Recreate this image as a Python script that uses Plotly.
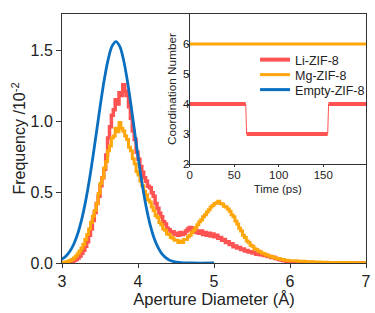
import plotly.graph_objects as go

# ---------------- data ----------------
diam = [3.000, 3.025, 3.050, 3.075, 3.100, 3.125, 3.150, 3.175, 3.200, 3.225,
        3.250, 3.275, 3.300, 3.325, 3.350, 3.375, 3.400, 3.425, 3.450, 3.475,
        3.500, 3.525, 3.550, 3.575, 3.600, 3.625, 3.650, 3.675, 3.700, 3.725,
        3.750, 3.775, 3.800, 3.825, 3.850, 3.875, 3.900, 3.925, 3.950, 3.975,
        4.000, 4.025, 4.050, 4.075, 4.100, 4.125, 4.150, 4.175, 4.200, 4.225,
        4.250, 4.275, 4.300, 4.325, 4.350, 4.375, 4.400, 4.425, 4.450, 4.475,
        4.500, 4.525, 4.550, 4.575, 4.600, 4.625, 4.650, 4.675, 4.700, 4.725,
        4.750, 4.775, 4.800, 4.825, 4.850, 4.875, 4.900, 4.925, 4.950, 4.975,
        5.000, 5.025, 5.050, 5.075, 5.100, 5.125, 5.150, 5.175, 5.200, 5.225,
        5.250, 5.275, 5.300, 5.325, 5.350, 5.375, 5.400, 5.425, 5.450, 5.475,
        5.500, 5.525, 5.550, 5.575, 5.600, 5.625, 5.650, 5.675, 5.700, 5.725,
        5.750, 5.775, 5.800, 5.825, 5.850, 5.875, 5.900, 5.925, 5.950, 5.975,
        6.000, 6.100, 6.200, 6.300, 6.400, 6.500, 6.600, 6.800, 7.000]

li_freq = [0.000, 0.000, 0.002, 0.004, 0.008, 0.012, 0.018, 0.025, 0.035, 0.050,
           0.068, 0.090, 0.118, 0.150, 0.195, 0.240, 0.300, 0.355, 0.420, 0.470,
           0.545, 0.600, 0.660, 0.760, 0.880, 0.960, 1.040, 1.080, 1.150, 1.120,
           1.200, 1.180, 1.255, 1.210, 1.180, 1.100, 1.020, 0.930, 0.870, 0.780,
           0.730, 0.680, 0.640, 0.600, 0.575, 0.540, 0.530, 0.495, 0.470, 0.420,
           0.385, 0.350, 0.325, 0.290, 0.275, 0.245, 0.235, 0.215, 0.220, 0.200,
           0.210, 0.195, 0.215, 0.200, 0.210, 0.225, 0.240, 0.250, 0.230, 0.245,
           0.215, 0.225, 0.210, 0.225, 0.200, 0.215, 0.195, 0.210, 0.190, 0.205,
           0.185, 0.195, 0.175, 0.180, 0.160, 0.165, 0.145, 0.150, 0.130, 0.135,
           0.115, 0.120, 0.105, 0.110, 0.095, 0.098, 0.085, 0.088, 0.078, 0.080,
           0.070, 0.072, 0.062, 0.064, 0.058, 0.060, 0.052, 0.055, 0.045, 0.046,
           0.038, 0.040, 0.032, 0.030, 0.025, 0.022, 0.018, 0.015, 0.012, 0.010,
           0.008, 0.005, 0.003, 0.002, 0.001, 0.000, 0.000, 0.000, 0.000]

mg_freq = [0.005, 0.006, 0.008, 0.012, 0.018, 0.025, 0.035, 0.048, 0.065, 0.085,
           0.105, 0.130, 0.165, 0.200, 0.240, 0.285, 0.330, 0.370, 0.420, 0.490,
           0.560, 0.600, 0.670, 0.715, 0.790, 0.825, 0.880, 0.895, 0.950, 0.925,
           0.990, 0.950, 0.930, 0.895, 0.870, 0.815, 0.790, 0.735, 0.700, 0.645,
           0.620, 0.575, 0.545, 0.505, 0.480, 0.445, 0.430, 0.395, 0.370, 0.335,
           0.320, 0.285, 0.270, 0.240, 0.230, 0.205, 0.200, 0.180, 0.175, 0.160,
           0.160, 0.145, 0.155, 0.145, 0.165, 0.165, 0.185, 0.195, 0.215, 0.230,
           0.250, 0.270, 0.290, 0.305, 0.325, 0.340, 0.360, 0.375, 0.395, 0.405,
           0.420, 0.425, 0.435, 0.420, 0.415, 0.400, 0.395, 0.380, 0.365, 0.340,
           0.325, 0.295, 0.275, 0.245, 0.225, 0.195, 0.180, 0.155, 0.145, 0.125,
           0.118, 0.100, 0.095, 0.084, 0.080, 0.068, 0.066, 0.057, 0.055, 0.047,
           0.045, 0.039, 0.036, 0.031, 0.030, 0.025, 0.024, 0.020, 0.020, 0.016,
           0.016, 0.012, 0.009, 0.007, 0.005, 0.004, 0.003, 0.002, 0.001]

empty_diam = [2.96, 3.01, 3.06, 3.11, 3.16, 3.21, 3.26, 3.31, 3.36, 3.41,
              3.46, 3.51, 3.56, 3.61, 3.66, 3.71, 3.76, 3.81, 3.86, 3.91,
              3.96, 4.01, 4.06, 4.11, 4.16, 4.21, 4.26, 4.31, 4.36, 4.41,
              4.46, 4.51, 4.56, 4.61, 4.71, 5.00]
empty_freq = [0.017, 0.031, 0.053, 0.088, 0.139, 0.211, 0.309, 0.434, 0.585, 0.759,
              0.946, 1.133, 1.303, 1.440, 1.529, 1.560, 1.526, 1.430, 1.284, 1.103,
              0.907, 0.714, 0.539, 0.389, 0.269, 0.178, 0.113, 0.068, 0.040, 0.022,
              0.012, 0.006, 0.003, 0.001, 0.000, 0.000]

# inset: coordination number vs time
li_time = [0, 63, 64, 155, 156, 198]
li_cn = [4, 4, 3, 3, 4, 4]
mg_time = [0, 198]
mg_cn = [6, 6]

names = ["Li-ZIF-8", "Mg-ZIF-8", "Empty-ZIF-8"]
RED, ORANGE, BLUE = "#FF5252", "#FFA60A", "#0B6FC0"
AX = "#333333"
FONT = "Liberation Sans, Arial, sans-serif"

fig = go.Figure()

# main curves
fig.add_trace(go.Scatter(x=diam, y=li_freq, mode="lines", line=dict(color=RED, width=3.5, shape="hv"),
                         showlegend=False, xaxis="x", yaxis="y"))
fig.add_trace(go.Scatter(x=diam, y=mg_freq, mode="lines", line=dict(color=ORANGE, width=3, shape="hv"),
                         showlegend=False, xaxis="x", yaxis="y"))
fig.add_trace(go.Scatter(x=empty_diam, y=empty_freq, mode="lines", line=dict(color=BLUE, width=2.8, shape="spline"),
                         showlegend=False, xaxis="x", yaxis="y"))

# inset: thin connector for Li
fig.add_trace(go.Scatter(x=li_time, y=li_cn, mode="lines", line=dict(color=RED, width=1),
                         showlegend=False, xaxis="x2", yaxis="y2", hoverinfo="skip"))
# inset: thick horizontal Li segments
seg_x, seg_y = [], []
for i in range(len(li_time) - 1):
    if li_cn[i] == li_cn[i + 1]:
        seg_x += [li_time[i], li_time[i + 1], None]
        seg_y += [li_cn[i], li_cn[i + 1], None]
fig.add_trace(go.Scatter(x=seg_x, y=seg_y, mode="lines", line=dict(color=RED, width=4),
                         name=names[0], xaxis="x2", yaxis="y2", legend="legend"))
fig.add_trace(go.Scatter(x=mg_time, y=mg_cn, mode="lines", line=dict(color=ORANGE, width=3),
                         name=names[1], xaxis="x2", yaxis="y2", legend="legend2"))
# Empty-ZIF-8 legend entry only
fig.add_trace(go.Scatter(x=[None], y=[None], mode="lines", line=dict(color=BLUE, width=3),
                         name=names[2], xaxis="x2", yaxis="y2", legend="legend3"))

leg_common = dict(x=0.635, xanchor="left", yanchor="middle", bgcolor="rgba(0,0,0,0)",
                  font=dict(size=12.5, family=FONT), itemwidth=30)

fig.update_layout(
    width=375, height=313,
    margin=dict(l=62, r=4, t=14, b=50),
    paper_bgcolor="white", plot_bgcolor="white",
    font=dict(family=FONT, color="#222222"),
    xaxis=dict(domain=[0, 1], range=[3, 7], tickvals=[3, 4, 5, 6, 7], ticks="outside", ticklen=4,
               tickcolor=AX, showline=True, linecolor=AX, linewidth=1, mirror=True, showgrid=False,
               zeroline=False, tickfont=dict(size=16, family=FONT),
               title=dict(text="Aperture Diameter (Å)", font=dict(size=16.5, family=FONT), standoff=4)),
    yaxis=dict(domain=[0, 1], range=[0, 1.754], tickvals=[0, 0.5, 1.0, 1.5], tickformat=".1f",
               ticks="outside", ticklen=5, tickcolor=AX, showline=True, linecolor=AX, linewidth=1,
               mirror=True, showgrid=False, zeroline=False, tickfont=dict(size=16, family=FONT),
               title=dict(text="Frequency /10<sup>-2</sup>", font=dict(size=16, family=FONT), standoff=0)),
    xaxis2=dict(domain=[0.4197, 1], anchor="y2", range=[0, 198], tickvals=[0, 50, 100, 150],
                ticks="outside", ticklen=2, tickcolor=AX, showline=True, linecolor=AX, linewidth=1,
                mirror=True, showgrid=False, zeroline=False, tickfont=dict(size=11.5, family=FONT),
                ticklabelstandoff=-2,
                title=dict(text="Time (ps)", font=dict(size=11.5, family=FONT), standoff=5)),
    yaxis2=dict(domain=[0.3976, 1], anchor="x2", range=[2, 7], tickvals=[2, 3, 4, 5, 6],
                ticks="outside", ticklen=2, tickcolor=AX, showline=True, linecolor=AX, linewidth=1,
                mirror=True, showgrid=False, zeroline=False, tickfont=dict(size=11.5, family=FONT),
                ticklabelstandoff=-5,
                title=dict(text="Coordination Number", font=dict(size=11.8, family=FONT), standoff=3)),
    legend=dict(y=(263 - 60) / 249, **leg_common),
    legend2=dict(y=(263 - 75) / 249, **leg_common),
    legend3=dict(y=(263 - 90) / 249, **leg_common),
)

fig.write_html("out.html", config={"displayModeBar": False},
               post_script="document.body.style.margin='0px';")
